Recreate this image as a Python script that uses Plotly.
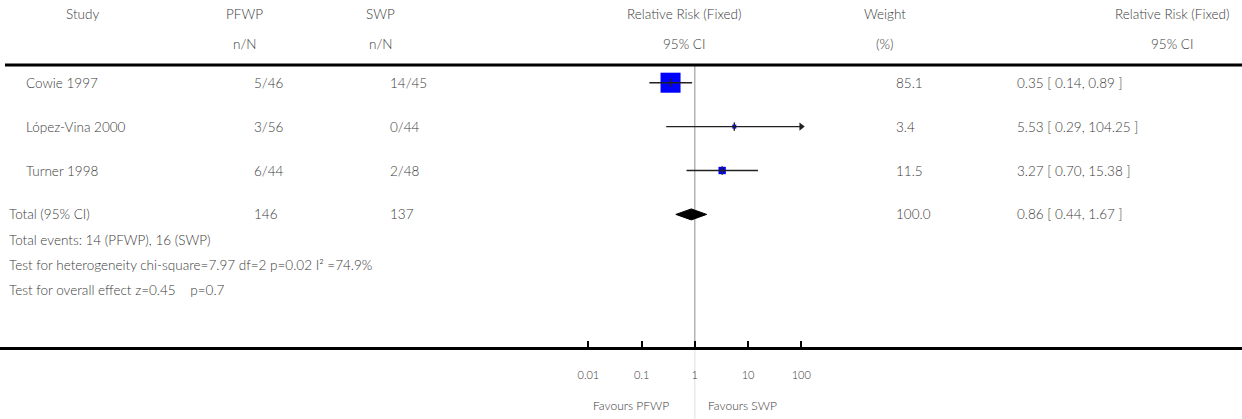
import numpy as np
import plotly.graph_objects as go

# ---------------- data ----------------
studies = ["Cowie 1997", "López-Vina 2000", "Turner 1998"]
pfwp_nN = ["5/46", "3/56", "6/44"]
swp_nN = ["14/45", "0/44", "2/48"]
rr = [0.35, 5.53, 3.27]
rr_lo = [0.14, 0.29, 0.70]
rr_hi = [0.89, 104.25, 15.38]
weights = [85.1, 3.4, 11.5]
weight_txt = ["85.1", "3.4", "11.5"]
ci_txt = ["0.35 [ 0.14, 0.89 ]", "5.53 [ 0.29, 104.25 ]", "3.27 [ 0.70, 15.38 ]"]

total_label = "Total (95% CI)"
total_pfwp = "146"
total_swp = "137"
total_rr = 0.86
total_lo = 0.44
total_hi = 1.67
total_weight = "100.0"
total_ci = "0.86 [ 0.44, 1.67 ]"

footer_lines = [
    "Total events: 14 (PFWP), 16 (SWP)",
    "Test for heterogeneity chi-square=7.97 df=2 p=0.02 I² =74.9%",
    "Test for overall effect z=0.45\u00a0\u00a0\u00a0\u00a0p=0.7",
]
header1 = ["Study", "PFWP", "SWP", "Relative Risk (Fixed)", "Weight", "Relative Risk (Fixed)"]
header2 = ["", "n/N", "n/N", "95% CI", "(%)", "95% CI"]
tick_vals = [0.01, 0.1, 1, 10, 100]
tick_text = ["0.01", "0.1", "1", "10", "100"]
favours = ["Favours PFWP", "Favours SWP"]

# ---------------- layout helpers ----------------
W, H = 1242, 419
FONT = "Lato"
TXT = "#3a3a3a"
FS = 13.5
PAD = 3  # annotation inner padding

def px(x):
    return x / W

def py(y):
    return 1 - y / H

row_y0, row_dy = 82.7, 43.9
yr = [(H - row_y0) / row_dy, (0 - row_y0) / row_dy]
one_px, dec_px = 694.8, 53.2
xr = [(0 - one_px) / dec_px, (W - one_px) / dec_px]
axis_max = 100

fig = go.Figure()

# reference line at RR = 1
top_i = (66 - row_y0) / row_dy
axis_i = (348 - row_y0) / row_dy
bot_i = (H - row_y0) / row_dy
fig.add_trace(go.Scatter(x=[1, 1], y=[top_i, axis_i], mode="lines",
                         line=dict(color="#a0a0a0", width=1.2), hoverinfo="skip"))
fig.add_trace(go.Scatter(x=[1, 1], y=[axis_i, bot_i], mode="lines",
                         line=dict(color="#e4e4e4", width=1.2), hoverinfo="skip"))

rows = list(range(len(studies)))
# weight boxes
fig.add_trace(go.Scatter(
    x=rr, y=rows, mode="markers",
    marker=dict(symbol="square", color="#0000ff", opacity=1,
                size=[2.17 * np.sqrt(w) for w in weights], line=dict(width=0)),
    hoverinfo="skip"))

# CI lines
for i in rows:
    hi = min(rr_hi[i], axis_max)
    fig.add_trace(go.Scatter(x=[rr_lo[i], hi], y=[i, i], mode="lines",
                             line=dict(color="#222222", width=1.4), hoverinfo="skip"))
    if rr_hi[i] > axis_max:
        fig.add_trace(go.Scatter(x=[hi], y=[i], mode="markers",
                                 marker=dict(symbol="triangle-right", size=7, color="#222222",
                                             opacity=1),
                                 hoverinfo="skip"))
# point ticks
fig.add_trace(go.Scatter(x=rr, y=rows, mode="markers",
                         marker=dict(symbol="line-ns-open", size=6, color="#222222", opacity=1,
                                     line=dict(color="#222222", width=1.4)),
                         hoverinfo="skip"))

# pooled diamond
ti = len(studies)
dh = 5.5 / row_dy
fig.add_trace(go.Scatter(
    x=[total_lo, total_rr, total_hi, total_rr, total_lo],
    y=[ti, ti - dh, ti, ti + dh, ti],
    mode="lines", fill="toself", fillcolor="#000000",
    line=dict(color="#000000", width=1), hoverinfo="skip"))

ann = []

def add_text(text, x, y, xanchor="left", yref="paper", size=FS):
    if xanchor == "left":
        x -= PAD
    elif xanchor == "right":
        x += PAD
    ann.append(dict(text=text, x=px(x), y=y, xref="paper", yref=yref,
                    xanchor=xanchor, yanchor="middle", showarrow=False,
                    font=dict(family=FONT, size=size, color=TXT, weight=300)))

# headers
hdr_x = [82, 245, 381, 684, 885, 1172]
for t, x in zip(header1, hdr_x):
    add_text(t, x, py(14), "center")
for t, x in zip(header2, hdr_x):
    if t:
        add_text(t, x, py(44), "center")

# study rows
for i in rows:
    add_text(studies[i], 27, i, "left", "y")
    add_text(pfwp_nN[i], 255, i, "left", "y")
    add_text(swp_nN[i], 391, i, "left", "y")
    add_text(weight_txt[i], 897, i, "left", "y")
    add_text(ci_txt[i], 1018, i, "left", "y")

# totals
add_text(total_label, 10, ti, "left", "y")
add_text(total_pfwp, 255, ti, "left", "y")
add_text(total_swp, 391, ti, "left", "y")
add_text(total_weight, 897, ti, "left", "y")
add_text(total_ci, 1018, ti, "left", "y")

for k, line in enumerate(footer_lines):
    add_text(line, 10, py(240 + 25 * k), "left")

add_text(favours[0], 668, py(405), "right", size=12)
add_text(favours[1], 709, py(405), "left", size=12)

fig.update_layout(
    width=W, height=H,
    margin=dict(l=0, r=0, t=0, b=0),
    paper_bgcolor="white", plot_bgcolor="white",
    showlegend=False,
    annotations=ann,
    shapes=[dict(type="line", xref="paper", yref="paper",
                 x0=px(5), x1=1, y0=py(65), y1=py(65),
                 line=dict(color="black", width=3))],
    xaxis=dict(type="log", range=xr, domain=[0, 1], anchor="free", position=py(348),
               showgrid=False, zeroline=False,
               showline=True, linecolor="black", linewidth=3,
               ticks="inside", ticklen=6, tickwidth=2, tickcolor="black",
               tickvals=tick_vals, ticktext=tick_text, ticklabelstandoff=16,
               tickfont=dict(family=FONT, size=11, color=TXT, weight=300)),
    yaxis=dict(range=yr, domain=[0, 1], visible=False, showgrid=False, zeroline=False),
)

fig.write_html("out.html", config={"displayModeBar": False},
               post_script="document.body.style.margin='0';document.body.style.overflow='hidden';")
